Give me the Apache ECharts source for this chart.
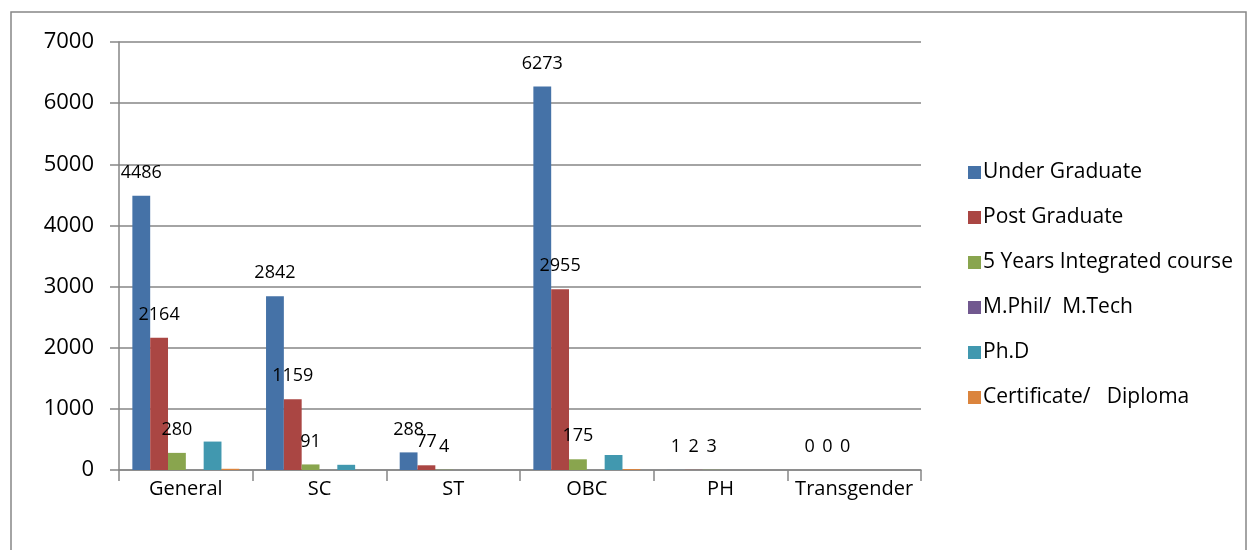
<!DOCTYPE html>
<html>
<head>
<meta charset="utf-8">
<script src="https://cdn.jsdelivr.net/npm/echarts@6/dist/echarts.min.js"></script>
<style>
html,body{margin:0;padding:0;background:#fff;}
#c{width:1248px;height:550px;}
</style>
</head>
<body>
<div id="c"></div>
<script>
var categories = ['General', 'SC', 'ST', 'OBC', 'PH', 'Transgender'];
var seriesNames = ['Under Graduate', 'Post Graduate', '5 Years Integrated course', 'M.Phil/  M.Tech', 'Ph.D', 'Certificate/   Diploma'];
var underGraduate = [4486, 2842, 288, 6273, 1, 0];
var postGraduate = [2164, 1159, 77, 2955, 2, 0];
var fiveYears = [280, 91, 4, 175, 3, 0];
var mphil = [0, 0, 0, 0, 0, 0];
var phd = [465, 85, 0, 245, 0, 0];
var certificate = [20, 0, 0, 15, 0, 0];
var yTicks = [0, 1000, 2000, 3000, 4000, 5000, 6000, 7000];

var colors = ['#4572A7', '#AA4643', '#89A54E', '#71588F', '#4198AF', '#DB843D'];
var font = '"Open Sans", "Liberation Sans", sans-serif';
var dataSets = [underGraduate, postGraduate, fiveYears, mphil, phd, certificate];

var chart = echarts.init(document.getElementById('c'), null, {renderer: 'canvas'});
var series = dataSets.map(function (d, i) {
  return {
    name: seriesNames[i],
    type: 'bar',
    data: d,
    barGap: '0%',
    barCategoryGap: '20%',
    itemStyle: {color: colors[i]},
    label: {
      show: i < 3,
      position: 'top',
      distance: 14,
      color: '#000',
      fontFamily: font,
      fontSize: 18
    }
  };
});

chart.setOption({
  animation: false,
  backgroundColor: '#fff',
  color: colors,
  graphic: [{
    type: 'rect',
    shape: {x: 11, y: 12, width: 1235, height: 545},
    style: {fill: 'none', stroke: '#878787', lineWidth: 1.5},
    silent: true
  }],
  grid: {left: 119, right: 327, top: 42, bottom: 80},
  legend: {
    orient: 'vertical',
    left: 963,
    top: 157,
    itemWidth: 13,
    itemHeight: 13,
    itemGap: 24,
    icon: 'rect',
    textStyle: {fontFamily: font, fontSize: 21, color: '#000', lineHeight: 21, padding: [0, 0, 0, -3]},
    data: seriesNames
  },
  xAxis: {
    type: 'category',
    data: categories,
    axisLine: {lineStyle: {color: '#868686', width: 1.5}},
    axisTick: {show: true, length: 11, interval: 0, lineStyle: {color: '#868686', width: 1.5}},
    axisLabel: {color: '#000', fontFamily: font, fontSize: 20, margin: 9, interval: 0}
  },
  yAxis: {
    type: 'value',
    min: yTicks[0],
    max: yTicks[yTicks.length - 1],
    interval: 1000,
    axisLine: {show: true, lineStyle: {color: '#868686', width: 1.5}},
    axisTick: {show: true, length: 9, lineStyle: {color: '#868686', width: 1.5}},
    splitLine: {lineStyle: {color: '#868686', width: 1.5}},
    axisLabel: {color: '#000', fontFamily: font, fontSize: 22, margin: 25, formatter: function (v) { return String(v); }}
  },
  series: series
});
</script>
</body>
</html>
